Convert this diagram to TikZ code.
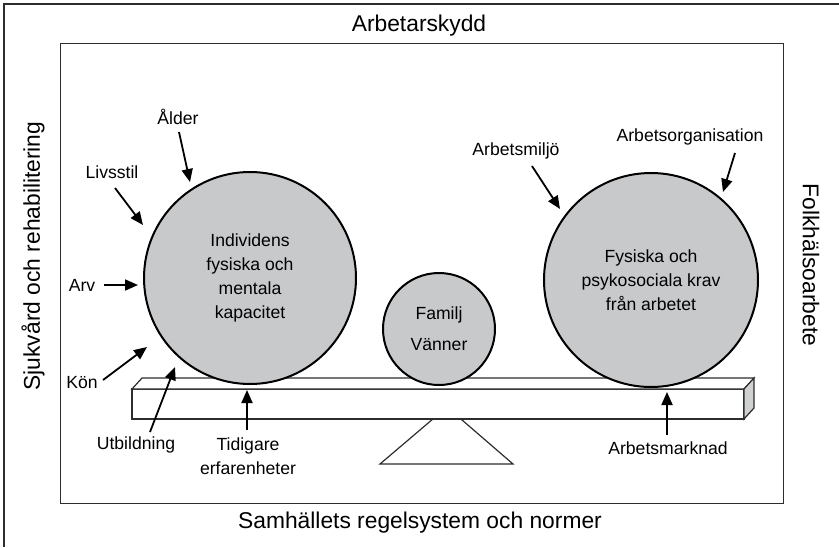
\documentclass[tikz,border=0pt]{standalone}
\usepackage{fontspec}
\setmainfont{Liberation Sans}
\usetikzlibrary{arrows.meta}
\definecolor{circfill}{RGB}{200,201,203}
\definecolor{framecol}{RGB}{45,45,45}
\begin{document}
\begin{tikzpicture}[x=1pt,y=-1pt,
  big/.style={font=\fontsize{22.8}{27}\selectfont, inner sep=0pt},
  lab/.style={font=\fontsize{17.6}{24}\selectfont, inner sep=0pt},
  ball/.style={circle, draw=black, line width=2pt, fill=circfill, align=center,
    font=\fontsize{17.6}{24}\selectfont, inner sep=0pt},
  arr/.style={line width=1.8pt, -{Triangle[length=13pt,width=11pt]}},
  frame/.style={draw=framecol, line width=1.2pt},
]
\useasboundingbox (0,0) rectangle (839,547);
% outer frame (top and left)
\coordinate (ofbl) at (4,547);
\coordinate (oftl) at (4,4);
\coordinate (oftr) at (839,4);
\draw[frame] (ofbl) -- (oftl) -- (oftr);
% inner box
\node[frame, draw, rectangle, minimum width=723pt, minimum height=460pt, inner sep=0pt, anchor=north west] (inner) at (60,43) {};
% headings
\node[big] (top) at (419,26) {Arbetarskydd};
\node[big] (bottom) at (420,523) {Samhällets regelsystem och normer};
\node[big, rotate=90] (left) at (33,256) {Sjukvård och rehabilitering};
\node[big, rotate=-90] (right) at (811,265) {Folkhälsoarbete};
% fulcrum
\draw[frame] (447,407) -- (380,464) -- (513,464) -- cycle;
% beam
\draw[frame, fill=white] (132,389) rectangle (744,419);
\draw[frame, fill=white] (132,389) -- (142,378) -- (754,378) -- (744,389) -- cycle;
\draw[frame, fill=circfill!85] (744,389) -- (754,378) -- (754,408) -- (744,419) -- cycle;
% circles
\node[ball, minimum size=212pt] (ind) at (250,278) {Individens\\fysiska och\\mentala\\kapacitet};
\node[ball, minimum size=112pt] (fam) at (439,329) {Familj\\[7pt]Vänner};
\node[ball, minimum size=214pt] (krav) at (651,280) {Fysiska och\\psykosociala krav\\från arbetet};
% labels
\node[lab] (alder) at (178,117) {Ålder};
\node[lab] (livs) at (112,172) {Livsstil};
\node[lab] (arv) at (82,285) {Arv};
\node[lab] (kon) at (82,383) {Kön};
\node[lab] (utb) at (136,445) {Utbildning};
\node[lab, align=center] (tid) at (248,456) {Tidigare\\erfarenheter};
\node[lab] (amark) at (668,448) {Arbetsmarknad};
\node[lab] (amilj) at (516,151) {Arbetsmiljö};
\node[lab] (aorg) at (690,137) {Arbetsorganisation};
% arrow ends
\coordinate (alderT) at (179,132); \coordinate (alderH) at (190,182);
\coordinate (livsT) at (115,188);  \coordinate (livsH) at (143,225);
\coordinate (arvT) at (104,285);   \coordinate (arvH) at (138,285);
\coordinate (konT) at (103,380);   \coordinate (konH) at (147,347);
\coordinate (utbT) at (150,432);   \coordinate (utbH) at (175,367);
\coordinate (tidT) at (247,430);   \coordinate (tidH) at (247,390);
\coordinate (amarkT) at (667,435); \coordinate (amarkH) at (667,392);
\coordinate (amiljT) at (532,166); \coordinate (amiljH) at (560,209);
\coordinate (aorgT) at (735,153);  \coordinate (aorgH) at (723,192);
\draw[arr] (alderT) -- (alderH);
\draw[arr] (livsT) -- (livsH);
\draw[arr] (arvT) -- (arvH);
\draw[arr] (konT) -- (konH);
\draw[arr] (utbT) -- (utbH);
\draw[arr] (tidT) -- (tidH);
\draw[arr] (amarkT) -- (amarkH);
\draw[arr] (amiljT) -- (amiljH);
\draw[arr] (aorgT) -- (aorgH);
\end{tikzpicture}
\end{document}
